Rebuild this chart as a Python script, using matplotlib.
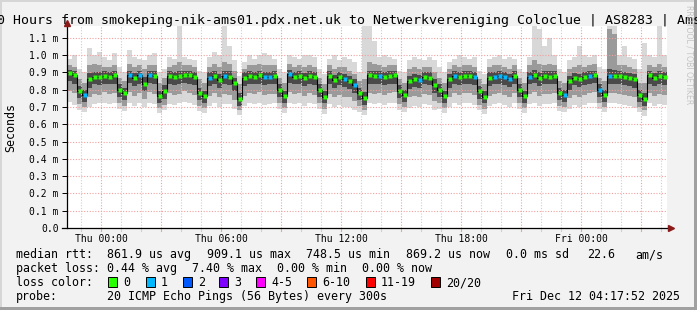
import numpy as np
import pandas as pd
import matplotlib
matplotlib.use("Agg")
import matplotlib.pyplot as plt
from matplotlib.patches import Rectangle

# ---- data, one value per 15 min ----
start = pd.Timestamp("2025-12-10 22:17:52")
end = pd.Timestamp("2025-12-12 04:17:52")

median = [
    0.895, 0.885, 0.790, 0.770, 0.860, 0.875, 0.875, 0.880,
    0.875, 0.885, 0.800, 0.780, 0.885, 0.865, 0.885, 0.835,
    0.885, 0.880, 0.765, 0.790, 0.880, 0.875, 0.880, 0.885,
    0.885, 0.875, 0.780, 0.765, 0.870, 0.880, 0.855, 0.880,
    0.875, 0.840, 0.745, 0.870, 0.880, 0.875, 0.885, 0.875,
    0.875, 0.880, 0.800, 0.765, 0.890, 0.875, 0.880, 0.865,
    0.880, 0.875, 0.800, 0.760, 0.880, 0.855, 0.875, 0.860,
    0.850, 0.825, 0.780, 0.750, 0.885, 0.880, 0.880, 0.875,
    0.880, 0.885, 0.795, 0.770, 0.850, 0.860, 0.855, 0.875,
    0.870, 0.825, 0.800, 0.765, 0.860, 0.880, 0.875, 0.880,
    0.880, 0.875, 0.790, 0.760, 0.870, 0.875, 0.880, 0.875,
    0.860, 0.880, 0.800, 0.765, 0.875, 0.885, 0.870, 0.880,
    0.875, 0.880, 0.780, 0.770, 0.850, 0.870, 0.860, 0.875,
    0.880, 0.885, 0.800, 0.770, 0.880, 0.880, 0.880, 0.875,
    0.870, 0.860, 0.770, 0.745, 0.885, 0.870, 0.880, 0.875,
]

# pings lost per step (out of 20)
loss = [
    0, 0, 0, 1, 0, 0, 0, 0,
    0, 0, 0, 0, 1, 0, 1, 0,
    1, 0, 0, 0, 0, 0, 0, 0,
    0, 0, 0, 0, 1, 0, 0, 1,
    0, 0, 0, 0, 0, 0, 0, 1,
    1, 0, 0, 0, 1, 0, 0, 0,
    0, 0, 0, 0, 0, 0, 0, 1,
    0, 1, 0, 0, 0, 0, 1, 0,
    0, 0, 0, 0, 0, 0, 1, 0,
    0, 0, 0, 0, 0, 1, 0, 0,
    0, 1, 0, 0, 0, 1, 1, 1,
    1, 0, 0, 0, 1, 0, 0, 0,
    0, 0, 0, 1, 0, 0, 0, 0,
    1, 0, 1, 0, 1, 0, 0, 0,
    0, 0, 0, 0, 0, 0, 0, 0,
]

ping_max = [
    0.98, 1.00, 0.92, 0.90, 1.04, 1.00, 1.02, 0.99,
    0.97, 1.01, 0.93, 0.90, 1.03, 0.99, 0.98, 0.97,
    1.00, 1.01, 0.90, 0.92, 0.99, 0.98, 1.17, 0.99,
    0.98, 0.97, 0.91, 0.90, 0.99, 1.02, 1.00, 1.17,
    1.05, 0.97, 0.88, 0.96, 1.00, 0.98, 1.00, 1.01,
    1.00, 0.98, 0.92, 0.90, 1.00, 0.99, 0.98, 1.00,
    1.00, 0.99, 0.92, 0.89, 0.98, 1.00, 0.97, 0.99,
    0.98, 0.96, 0.90, 1.17, 1.17, 1.08, 0.99, 1.00,
    0.99, 0.98, 0.91, 0.90, 0.97, 0.99, 0.98, 0.97,
    0.99, 0.97, 0.93, 0.90, 0.96, 0.98, 1.00, 0.99,
    0.98, 0.99, 0.91, 0.89, 0.98, 0.99, 1.00, 0.98,
    0.99, 0.98, 0.92, 0.90, 0.99, 1.17, 1.15, 1.05,
    1.10, 1.00, 0.92, 0.90, 0.97, 0.99, 1.05, 1.00,
    0.99, 1.00, 0.93, 0.92, 1.17, 1.17, 1.00, 1.05,
    0.99, 0.98, 0.92, 1.07, 1.00, 0.99, 1.17, 1.00,
]

ping_p90 = [
    0.94, 0.93, 0.86, 0.84, 0.94, 0.95, 0.94, 0.93,
    0.93, 0.94, 0.87, 0.85, 0.95, 0.93, 0.94, 0.92,
    0.94, 0.94, 0.84, 0.87, 0.93, 0.94, 0.96, 0.94,
    0.94, 0.93, 0.86, 0.84, 0.93, 0.95, 0.93, 0.96,
    0.95, 0.91, 0.83, 0.92, 0.94, 0.94, 0.95, 0.94,
    0.94, 0.94, 0.87, 0.84, 0.95, 0.93, 0.94, 0.93,
    0.94, 0.93, 0.87, 0.83, 0.94, 0.92, 0.93, 0.93,
    0.91, 0.89, 0.85, 0.86, 0.96, 0.95, 0.94, 0.93,
    0.94, 0.94, 0.86, 0.84, 0.92, 0.93, 0.92, 0.93,
    0.93, 0.90, 0.87, 0.84, 0.92, 0.94, 0.93, 0.94,
    0.94, 0.93, 0.86, 0.83, 0.93, 0.94, 0.94, 0.93,
    0.92, 0.94, 0.87, 0.84, 0.94, 0.97, 0.95, 0.94,
    0.95, 0.94, 0.85, 0.84, 0.92, 0.93, 0.94, 0.93,
    0.94, 0.95, 0.87, 0.85, 1.15, 1.12, 0.94, 0.94,
    0.93, 0.92, 0.84, 0.84, 0.94, 0.93, 0.95, 0.93,
]

ping_p75 = [
    0.915, 0.905, 0.820, 0.800, 0.895, 0.900, 0.900, 0.905,
    0.900, 0.910, 0.830, 0.810, 0.910, 0.895, 0.910, 0.875,
    0.910, 0.905, 0.795, 0.825, 0.905, 0.900, 0.910, 0.910,
    0.910, 0.900, 0.810, 0.795, 0.900, 0.910, 0.890, 0.910,
    0.905, 0.870, 0.780, 0.900, 0.905, 0.900, 0.910, 0.900,
    0.900, 0.905, 0.830, 0.795, 0.915, 0.900, 0.905, 0.895,
    0.905, 0.900, 0.830, 0.790, 0.905, 0.885, 0.900, 0.890,
    0.880, 0.860, 0.810, 0.785, 0.910, 0.905, 0.905, 0.900,
    0.905, 0.910, 0.825, 0.800, 0.880, 0.890, 0.885, 0.900,
    0.900, 0.860, 0.830, 0.795, 0.890, 0.905, 0.900, 0.905,
    0.905, 0.900, 0.820, 0.790, 0.900, 0.900, 0.905, 0.900,
    0.890, 0.905, 0.830, 0.795, 0.900, 0.915, 0.900, 0.905,
    0.905, 0.905, 0.810, 0.800, 0.880, 0.895, 0.890, 0.900,
    0.905, 0.910, 0.830, 0.800, 0.920, 0.915, 0.905, 0.900,
    0.895, 0.890, 0.800, 0.780, 0.910, 0.895, 0.910, 0.900,
]

ping_p25 = [
    0.850, 0.835, 0.750, 0.730, 0.810, 0.830, 0.825, 0.835,
    0.830, 0.835, 0.755, 0.740, 0.840, 0.820, 0.835, 0.790,
    0.840, 0.830, 0.725, 0.745, 0.835, 0.825, 0.830, 0.840,
    0.835, 0.825, 0.740, 0.725, 0.820, 0.835, 0.810, 0.830,
    0.825, 0.790, 0.705, 0.820, 0.835, 0.830, 0.835, 0.825,
    0.830, 0.830, 0.755, 0.725, 0.840, 0.830, 0.830, 0.820,
    0.830, 0.825, 0.755, 0.720, 0.830, 0.810, 0.825, 0.815,
    0.805, 0.780, 0.740, 0.710, 0.835, 0.830, 0.835, 0.825,
    0.835, 0.835, 0.750, 0.730, 0.805, 0.815, 0.810, 0.830,
    0.825, 0.780, 0.755, 0.725, 0.810, 0.835, 0.825, 0.835,
    0.830, 0.825, 0.745, 0.720, 0.820, 0.830, 0.835, 0.825,
    0.815, 0.830, 0.755, 0.725, 0.830, 0.840, 0.820, 0.830,
    0.830, 0.835, 0.740, 0.730, 0.800, 0.825, 0.815, 0.825,
    0.835, 0.840, 0.755, 0.730, 0.835, 0.835, 0.830, 0.825,
    0.820, 0.810, 0.730, 0.705, 0.835, 0.820, 0.830, 0.825,
]

ping_p10 = [
    0.790, 0.780, 0.715, 0.700, 0.760, 0.775, 0.770, 0.785,
    0.775, 0.780, 0.720, 0.705, 0.785, 0.765, 0.780, 0.745,
    0.785, 0.775, 0.695, 0.710, 0.780, 0.770, 0.775, 0.790,
    0.780, 0.770, 0.705, 0.695, 0.765, 0.780, 0.760, 0.775,
    0.770, 0.740, 0.680, 0.765, 0.780, 0.775, 0.785, 0.770,
    0.775, 0.775, 0.720, 0.695, 0.785, 0.775, 0.780, 0.765,
    0.780, 0.770, 0.720, 0.690, 0.775, 0.760, 0.770, 0.760,
    0.755, 0.735, 0.705, 0.685, 0.780, 0.775, 0.780, 0.770,
    0.780, 0.785, 0.715, 0.700, 0.755, 0.765, 0.760, 0.775,
    0.770, 0.735, 0.720, 0.695, 0.760, 0.780, 0.770, 0.780,
    0.780, 0.770, 0.710, 0.690, 0.765, 0.775, 0.780, 0.770,
    0.760, 0.780, 0.720, 0.695, 0.775, 0.785, 0.765, 0.775,
    0.775, 0.780, 0.705, 0.700, 0.750, 0.770, 0.760, 0.770,
    0.780, 0.785, 0.720, 0.700, 0.780, 0.780, 0.775, 0.770,
    0.765, 0.755, 0.700, 0.680, 0.780, 0.765, 0.775, 0.770,
]

ping_min = [
    0.730, 0.710, 0.680, 0.670, 0.700, 0.715, 0.720, 0.725,
    0.715, 0.720, 0.690, 0.675, 0.720, 0.705, 0.725, 0.700,
    0.720, 0.715, 0.665, 0.680, 0.715, 0.710, 0.720, 0.730,
    0.725, 0.710, 0.675, 0.665, 0.705, 0.720, 0.700, 0.715,
    0.715, 0.690, 0.655, 0.705, 0.720, 0.715, 0.725, 0.710,
    0.715, 0.720, 0.690, 0.665, 0.725, 0.715, 0.720, 0.705,
    0.720, 0.715, 0.690, 0.660, 0.715, 0.700, 0.710, 0.700,
    0.700, 0.685, 0.670, 0.655, 0.720, 0.715, 0.720, 0.710,
    0.720, 0.725, 0.685, 0.670, 0.695, 0.705, 0.700, 0.715,
    0.710, 0.685, 0.690, 0.665, 0.700, 0.720, 0.710, 0.720,
    0.720, 0.710, 0.680, 0.660, 0.705, 0.715, 0.720, 0.710,
    0.700, 0.720, 0.690, 0.665, 0.715, 0.725, 0.705, 0.715,
    0.715, 0.720, 0.675, 0.670, 0.690, 0.710, 0.700, 0.710,
    0.720, 0.725, 0.690, 0.670, 0.720, 0.720, 0.715, 0.710,
    0.705, 0.695, 0.670, 0.650, 0.720, 0.705, 0.715, 0.710,
]

y_ticks = [0.0, 0.1, 0.2, 0.3, 0.4, 0.5, 0.6, 0.7, 0.8, 0.9, 1.0, 1.1]
y_labels = ["0.0", "0.1 m", "0.2 m", "0.3 m", "0.4 m", "0.5 m", "0.6 m",
            "0.7 m", "0.8 m", "0.9 m", "1.0 m", "1.1 m"]
x_ticks = ["2025-12-11 00:00", "2025-12-11 06:00", "2025-12-11 12:00",
           "2025-12-11 18:00", "2025-12-12 00:00"]
x_labels = ["Thu 00:00", "Thu 06:00", "Thu 12:00", "Thu 18:00", "Fri 00:00"]

loss_names = ["0", "1", "2", "3", "4-5", "6-10", "11-19", "20/20"]
loss_colors = ["#26ff00", "#00b8ff", "#0059ff", "#7e00ff", "#ff00ff",
               "#ff5500", "#ff0000", "#a10000"]

title = ("30 Hours from smokeping-nik-ams01.pdx.net.uk to "
         "Netwerkvereniging Coloclue | AS8283 | Amsterdam")

# ---- figure ----
W, H = 697, 310
MONO = "DejaVu Sans Mono"
fig = plt.figure(figsize=(W / 100, H / 100), dpi=100, facecolor="#f2f2f2")


def fx(x):
    return x / W


def fy(y):
    return 1 - y / H


L, R, T, B = 67, 667, 26, 228
ax = fig.add_axes([fx(L), fy(B), (R - L) / W, (B - T) / H])
ax.set_facecolor("white")

edges = pd.date_range(start, periods=len(median) + 1, freq="15min")
centers = edges[:-1] + pd.Timedelta(minutes=7.5)


def ext(a):
    return np.append(a, a[-1])


ax.fill_between(edges, ext(ping_min), ext(ping_max), step="post",
                color="#d8d8d8", lw=0, zorder=1)
ax.fill_between(edges, ext(ping_p10), ext(ping_p90), step="post",
                color="#9a9a9a", lw=0, zorder=1)
ax.fill_between(edges, ext(ping_p25), ext(ping_p75), step="post",
                color="#4a4a4a", lw=0, zorder=1)
ax.plot(edges, ext(median), drawstyle="steps-post", color="black",
        lw=0.8, zorder=4)

med = np.array(median)
lossa = np.array(loss)
for n in (0, 1):
    sel = lossa == n
    ax.plot(centers[sel], med[sel], ls="none", marker="s", markersize=2.6,
            color=loss_colors[n], mec="none", zorder=5)

ax.set_xlim(start, end)
ax.set_ylim(0, 1.168)

# grid: grey every hour, red every 3 hours, red every 0.1 m
for h in pd.date_range("2025-12-10 23:00", "2025-12-12 04:00", freq="1h"):
    col = "#f3a0a0" if h.hour % 3 == 0 else "#cfcfcf"
    ax.axvline(h, color=col, lw=0.8, ls=(0, (1, 1.5)), zorder=3)
    ax.plot([h, h], [-0.004, -0.016], color=col, lw=0.8, clip_on=False, zorder=3)
for v in y_ticks[1:]:
    ax.axhline(v, color="#f3a0a0", lw=0.8, ls=(0, (1, 1.5)), zorder=3)

for s in ax.spines.values():
    s.set_visible(False)

ax.set_yticks(y_ticks)
ax.set_yticklabels(y_labels, fontfamily=MONO, fontsize=7)
ax.tick_params(axis="y", direction="out", length=3.6, width=0.7, pad=2.5)
ax.set_xticks(pd.to_datetime(x_ticks))
ax.set_xticklabels(x_labels, fontfamily=MONO, fontsize=7)
ax.tick_params(axis="x", length=0, pad=4)

# axes with arrow heads
ax.plot([-0.008, 1.004], [0, 0], transform=ax.transAxes, color="black",
        lw=0.9, clip_on=False, zorder=6)
ax.plot([0, 0], [0, 1.01], transform=ax.transAxes, color="black",
        lw=0.9, clip_on=False, zorder=6)
ax.plot([1.006], [0], transform=ax.transAxes, marker=">", markersize=4,
        color="#8b1a1a", clip_on=False, zorder=7)
ax.plot([0], [1.015], transform=ax.transAxes, marker="^", markersize=4,
        color="#8b1a1a", clip_on=False, zorder=7)

fig.text(fx(11), fy(127), "Seconds", rotation=90, ha="center", va="center",
         fontfamily=MONO, fontsize=8.4)
fig.text(fx(-10.6), fy(24), title, ha="left", va="baseline",
         fontfamily=MONO, fontsize=9.5)
fig.text(fx(689), fy(5), "RRDTOOL / TOBI OETIKER", rotation=270,
         ha="center", va="top", fontsize=5.6, color="#c4c4c4")

# legend rows
def row(y, items):
    for x, s in items:
        fig.text(fx(x), fy(y), s, ha="left", va="baseline",
                 fontfamily=MONO, fontsize=8.4)


row(258, [(16, "median rtt:"), (107, "861.9 us avg"), (207, "909.1 us max"),
          (306, "748.5 us min"), (406, "869.2 us now"), (506, "0.0 ms sd"),
          (587, "22.6"), (635, "am/s")])
row(272, [(16, "packet loss:"), (107, "0.44 % avg"), (192, "7.40 % max"),
          (277, "0.00 % min"), (362, "0.00 % now")])
row(286, [(16, "loss color:")])
box_x = [108, 146, 183, 219, 256, 307, 366, 431]
for bx, name, col in zip(box_x, loss_names, loss_colors):
    fig.patches.append(Rectangle((fx(bx), fy(286.5)), 9 / W, 10 / H,
                                 transform=fig.transFigure, facecolor=col,
                                 edgecolor="black", lw=0.7))
    fig.text(fx(bx + 15), fy(286), name, ha="left", va="baseline",
             fontfamily=MONO, fontsize=8.4)
row(300, [(16, "probe:"), (107, "20 ICMP Echo Pings (56 Bytes) every 300s")])
fig.text(fx(680), fy(300), "Fri Dec 12 04:17:52 2025", ha="right",
         va="baseline", fontfamily=MONO, fontsize=8.4)

# frame of the image
for rect, col in [((0, 0, 2, H), "#d6d6d6"), ((0, 0, W, 2), "#d6d6d6"),
                  ((0, H - 3, W, 3), "#a0a0a0"), ((W - 3, 0, 3, H), "#a0a0a0")]:
    x0, y0, w, h = rect
    fig.patches.append(Rectangle((fx(x0), fy(y0 + h)), w / W, h / H,
                                 transform=fig.transFigure, facecolor=col,
                                 edgecolor="none"))

fig.savefig("out.png", dpi=100, facecolor=fig.get_facecolor())
